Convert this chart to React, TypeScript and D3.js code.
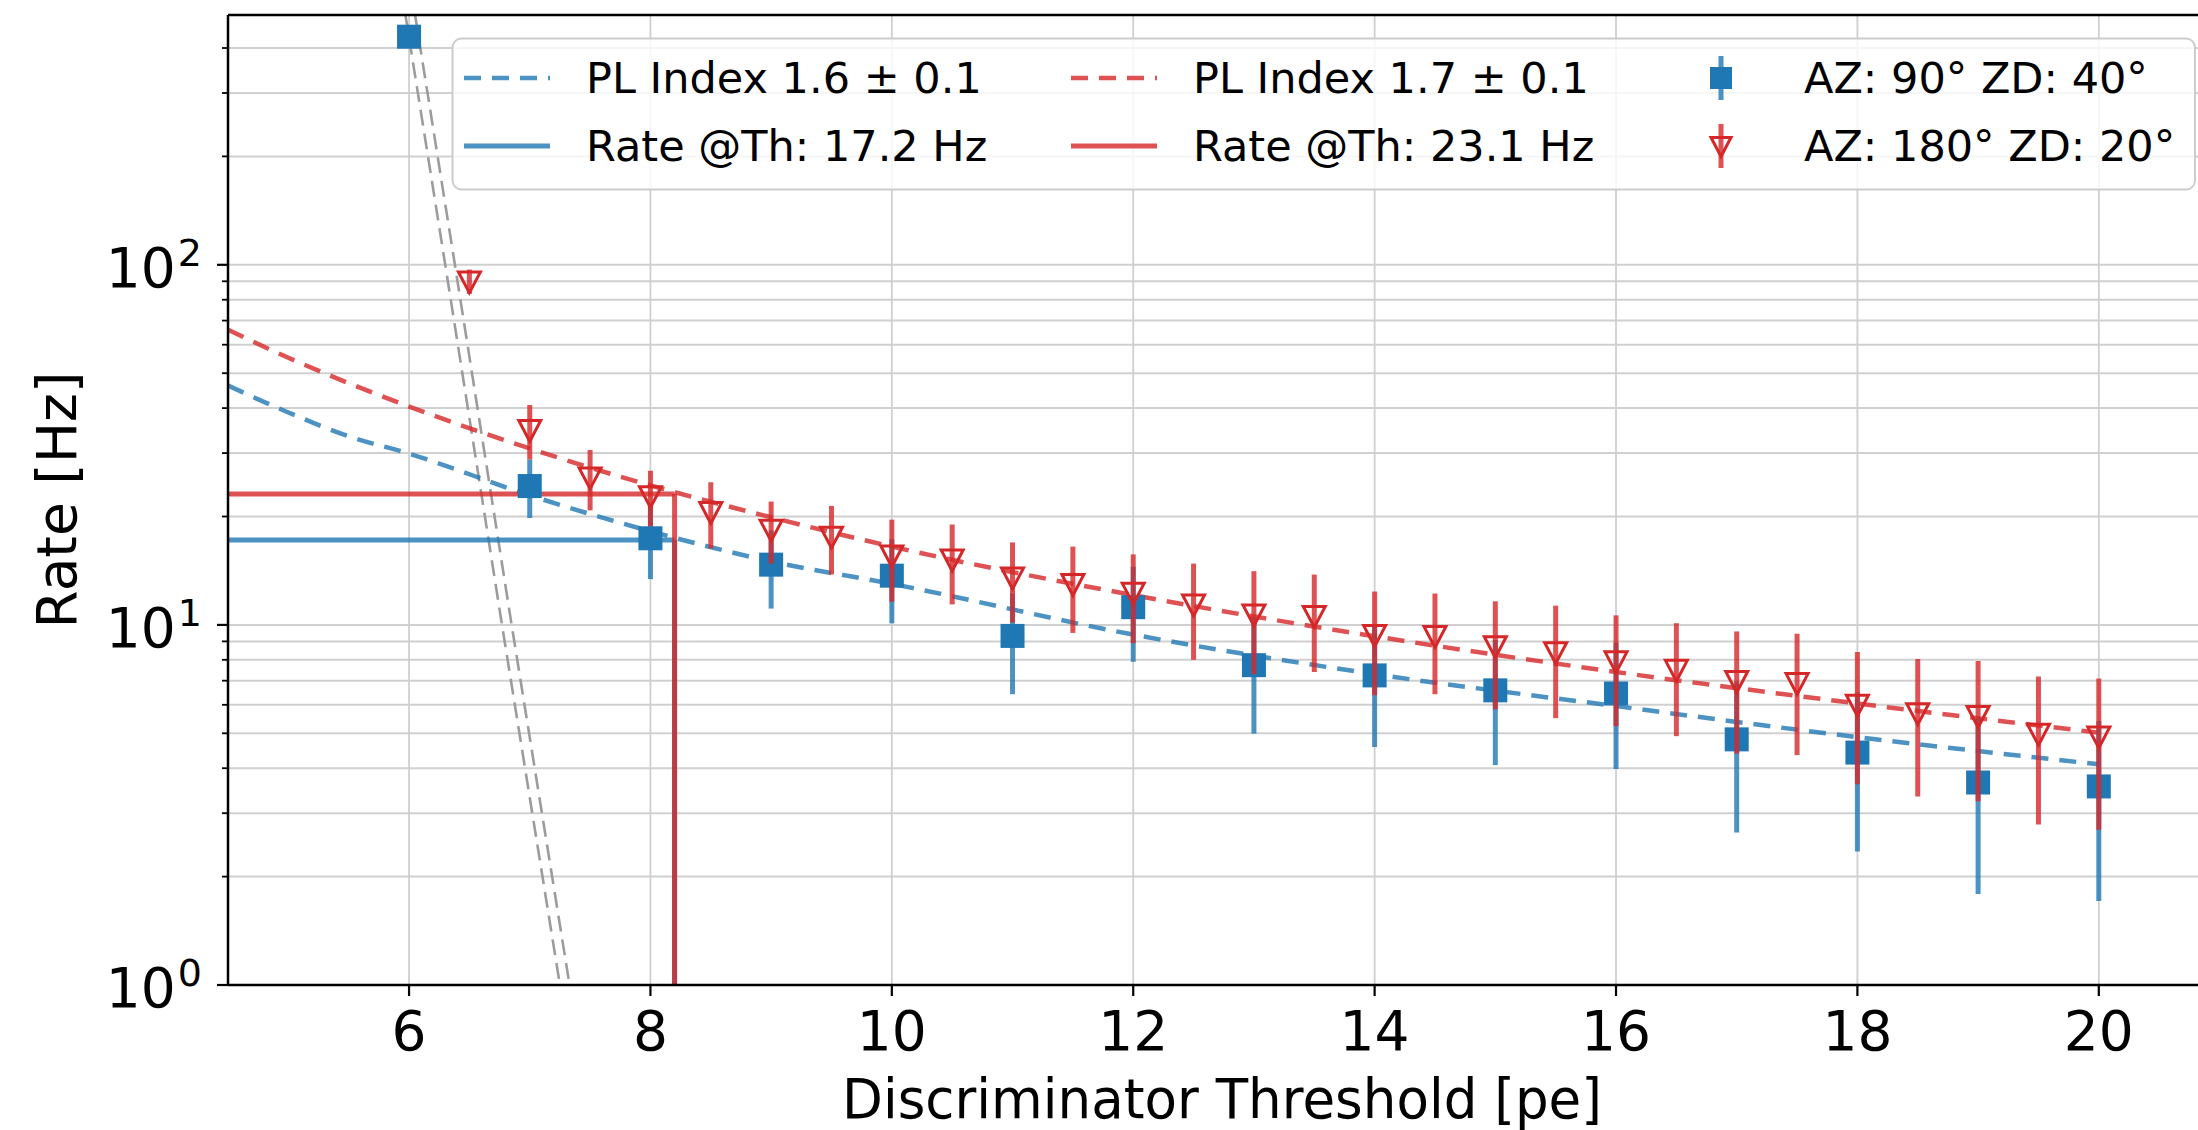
import React from 'react';
import * as d3 from 'd3';

const W = 2198;
const H = 1130;

// Axis ticks
const xTicks = [6, 8, 10, 12, 14, 16, 18, 20];
const yMajorTicks = [1, 10, 100];
const yMajorExp = ['0', '1', '2'];

// AZ: 90° ZD: 40° (blue squares)
const blueX = [6, 7, 8, 9, 10, 11, 12, 13, 14, 15, 16, 17, 18, 19, 20];
const blueRate = [430, 24.3, 17.4, 14.7, 13.7, 9.32, 11.2, 7.73, 7.24, 6.58, 6.45, 4.81, 4.42, 3.65, 3.56];
const blueErr = [18, 4.5, 4.0, 3.6, 3.6, 2.9, 3.3, 2.74, 2.66, 2.5, 2.47, 2.16, 2.07, 1.86, 1.85];

// AZ: 180° ZD: 20° (red triangles)
const redX = [6.5, 7, 7.5, 8, 8.5, 9, 9.5, 10, 10.5, 11, 11.5, 12, 12.5, 13, 13.5, 14, 14.5, 15, 15.5, 16, 16.5, 17, 17.5, 18, 18.5, 19, 19.5, 20];
const redRate = [90, 34.8, 25.7, 22.8, 20.6, 18.4, 17.6, 15.6, 15.2, 13.55, 13.0, 12.3, 11.4, 10.7, 10.6, 9.38, 9.32, 8.73, 8.41, 7.93, 7.51, 6.99, 6.9, 6.01, 5.69, 5.59, 4.99, 4.9];
const redErr = [7, 6, 4.9, 4.0, 4.3, 3.6, 3.8, 4.0, 3.8, 3.4, 3.5, 3.4, 3.4, 3.4, 3.2, 3.0, 2.9, 2.9, 2.9, 2.7, 2.6, 2.6, 2.55, 2.4, 2.35, 2.35, 2.2, 2.2];

// Power-law fit curves
const fitX = [4.5, 5, 5.5, 6, 7, 8, 9, 10, 12, 14, 16, 18, 20];
const blueFit = [46.2, 38.9, 33.4, 29.9, 22.9, 18.2, 15.0, 13.0, 9.4, 7.3, 5.95, 4.88, 4.1];
const redFit = [66, 55.2, 46.9, 40.4, 30.9, 24.4, 19.9, 16.5, 12.1, 9.3, 7.4, 6.05, 5.02];

// Steep grey dashed lines (two bounds)
const greyRate = [494, 100, 10, 1];
const greyAX = [5.97, 6.3, 6.77, 7.25];
const greyBX = [6.05, 6.38, 6.85, 7.33];

// Threshold markers
const threshold = 8.2;
const blueThRate = 17.2;
const redThRate = 23.1;

// Legend labels
const legendLabels = [
  'PL Index 1.6 ± 0.1',
  'Rate @Th: 17.2 Hz',
  'PL Index 1.7 ± 0.1',
  'Rate @Th: 23.1 Hz',
  'AZ: 90° ZD: 40°',
  'AZ: 180° ZD: 20°',
];

const BLUE = '#1f77b4';
const RED = '#d62728';
const FONT = "'DejaVu Sans', sans-serif";

export default function App() {
  const left = 228;
  const right = 2219.5;
  const top = 15;
  const bottom = 985;
  const x = d3.scaleLinear().domain([4.5, 21]).range([left, right]);
  const y = d3.scaleLog().domain([1, 494]).range([bottom, top]);

  const gridY = y.ticks();
  const minorY = gridY.filter((v) => !yMajorTicks.includes(v));

  const curve = d3
    .line<[number, number]>()
    .x((d) => x(d[0]))
    .y((d) => y(d[1]))
    .curve(d3.curveMonotoneX);
  const straight = d3
    .line<[number, number]>()
    .x((d) => x(d[0]))
    .y((d) => y(d[1]));

  const blueFitPath = curve(fitX.map((v, i) => [v, blueFit[i]]));
  const redFitPath = curve(fitX.map((v, i) => [v, redFit[i]]));
  const greyA = straight(greyAX.map((v, i) => [v, greyRate[i]]));
  const greyB = straight(greyBX.map((v, i) => [v, greyRate[i]]));

  const sq = 24;
  const tri = (cx: number, cy: number, s = 11) =>
    `M${cx - s},${cy - s * 0.85}L${cx + s},${cy - s * 0.85}L${cx},${cy + s * 1.05}Z`;

  const tickFS = 55;
  const legFS = 43;

  return (
    <svg
      width={W}
      height={H}
      style={{ position: 'absolute', left: 0, top: 0, background: '#fff' }}
      fontFamily={FONT}
    >
      <defs>
        <clipPath id="plotclip">
          <rect x={left} y={top} width={right - left} height={bottom - top} />
        </clipPath>
      </defs>
      <rect x={0} y={0} width={W} height={H} fill="#fff" />

      {/* grid */}
      <g stroke="#d0d0d0" strokeWidth={2}>
        {gridY.map((v) => (
          <line key={'gy' + v} x1={left} x2={right} y1={y(v)} y2={y(v)} />
        ))}
        {xTicks.map((v) => (
          <line key={'gx' + v} x1={x(v)} x2={x(v)} y1={top} y2={bottom} stroke="#cfcfcf" strokeWidth={1.8} />
        ))}
      </g>

      <g clipPath="url(#plotclip)">
        {/* grey steep dashed lines */}
        <path d={greyA || ''} fill="none" stroke="#9c9c9c" strokeWidth={2.6} strokeDasharray="16 8" />
        <path d={greyB || ''} fill="none" stroke="#9c9c9c" strokeWidth={2.6} strokeDasharray="16 8" />

        {/* fit curves */}
        <path d={blueFitPath || ''} fill="none" stroke={BLUE} strokeOpacity={0.8} strokeWidth={4.5} strokeDasharray="17 11" />
        <path d={redFitPath || ''} fill="none" stroke={RED} strokeOpacity={0.8} strokeWidth={4.5} strokeDasharray="17 11" />

        {/* threshold lines */}
        <line x1={left} x2={x(threshold)} y1={y(blueThRate)} y2={y(blueThRate)} stroke={BLUE} strokeOpacity={0.8} strokeWidth={5} />
        <line x1={x(threshold)} x2={x(threshold)} y1={bottom} y2={y(blueThRate)} stroke={BLUE} strokeOpacity={0.8} strokeWidth={5} />
        <line x1={left} x2={x(threshold)} y1={y(redThRate)} y2={y(redThRate)} stroke={RED} strokeOpacity={0.8} strokeWidth={5} />
        <line x1={x(threshold)} x2={x(threshold)} y1={bottom} y2={y(redThRate)} stroke={RED} strokeOpacity={0.8} strokeWidth={5} />

        {/* blue data */}
        {blueX.map((v, i) => (
          <g key={'b' + i}>
            <line
              x1={x(v)}
              x2={x(v)}
              y1={y(Math.max(blueRate[i] - blueErr[i], 0.5))}
              y2={y(blueRate[i] + blueErr[i])}
              stroke={BLUE}
              strokeOpacity={0.8}
              strokeWidth={5}
            />
            <rect x={x(v) - sq / 2} y={y(blueRate[i]) - sq / 2} width={sq} height={sq} fill={BLUE} />
          </g>
        ))}

        {/* red data */}
        {redX.map((v, i) => (
          <g key={'r' + i}>
            <line
              x1={x(v)}
              x2={x(v)}
              y1={y(Math.max(redRate[i] - redErr[i], 0.5))}
              y2={y(redRate[i] + redErr[i])}
              stroke={RED}
              strokeOpacity={0.8}
              strokeWidth={5}
            />
            <path d={tri(x(v), y(redRate[i]))} fill="none" stroke={RED} strokeWidth={3} strokeLinejoin="miter" />
          </g>
        ))}
      </g>

      {/* spines */}
      <g stroke="#000" strokeWidth={2.5}>
        <line x1={left} x2={left} y1={top} y2={bottom} />
        <line x1={left} x2={right} y1={bottom} y2={bottom} />
        <line x1={left} x2={right} y1={top} y2={top} />
      </g>

      {/* ticks */}
      <g stroke="#000" strokeWidth={2.2}>
        {yMajorTicks.map((v) => (
          <line key={'ymt' + v} x1={left - 11} x2={left} y1={y(v)} y2={y(v)} />
        ))}
        {minorY.map((v) => (
          <line key={'ymn' + v} x1={left - 6} x2={left} y1={y(v)} y2={y(v)} strokeWidth={1.8} />
        ))}
        {xTicks.map((v) => (
          <line key={'xt' + v} x1={x(v)} x2={x(v)} y1={bottom} y2={bottom + 11} />
        ))}
      </g>

      {/* tick labels */}
      <g fill="#000" fontSize={tickFS}>
        {yMajorTicks.map((v, i) => (
          <text key={'yl' + v} x={202} y={y(v) + 22} textAnchor="end">
            10
            <tspan dx={2} dy={-21} fontSize={38}>
              {yMajorExp[i]}
            </tspan>
          </text>
        ))}
        {xTicks.map((v) => (
          <text key={'xl' + v} x={x(v)} y={1050} textAnchor="middle">
            {v}
          </text>
        ))}
      </g>

      {/* axis labels */}
      <text
        x={1222}
        y={1118}
        textAnchor="middle"
        fontSize={55}
        fill="#000"
        textLength={760}
        lengthAdjust="spacingAndGlyphs"
      >
        Discriminator Threshold [pe]
      </text>
      <text transform={`translate(76,${(top + bottom) / 2}) rotate(-90)`} textAnchor="middle" fontSize={55} fill="#000">
        Rate [Hz]
      </text>

      {/* legend */}
      <g>
        <rect x={452.5} y={38.5} width={2195 - 452.5} height={151} rx={9} fill="#fff" fillOpacity={0.8} stroke="#cccccc" strokeWidth={2} />
        {/* col 1 */}
        <line x1={464} x2={550} y1={78} y2={78} stroke={BLUE} strokeOpacity={0.8} strokeWidth={4.5} strokeDasharray="17 11" />
        <line x1={464} x2={550} y1={146} y2={146} stroke={BLUE} strokeOpacity={0.8} strokeWidth={5} />
        <text x={586} y={92.5} fontSize={legFS} fill="#000">{legendLabels[0]}</text>
        <text x={586} y={161} fontSize={legFS} fill="#000">{legendLabels[1]}</text>
        {/* col 2 */}
        <line x1={1071} x2={1157} y1={78} y2={78} stroke={RED} strokeOpacity={0.8} strokeWidth={4.5} strokeDasharray="17 11" />
        <line x1={1071} x2={1157} y1={146} y2={146} stroke={RED} strokeOpacity={0.8} strokeWidth={5} />
        <text x={1193} y={92.5} fontSize={legFS} fill="#000">{legendLabels[2]}</text>
        <text x={1193} y={161} fontSize={legFS} fill="#000">{legendLabels[3]}</text>
        {/* col 3 */}
        <line x1={1721} x2={1721} y1={56} y2={100} stroke={BLUE} strokeOpacity={0.8} strokeWidth={5} />
        <rect x={1721 - 11} y={78 - 11} width={22} height={22} fill={BLUE} />
        <line x1={1721} x2={1721} y1={124} y2={168} stroke={RED} strokeOpacity={0.8} strokeWidth={5} />
        <path d={tri(1721, 146, 10)} fill="none" stroke={RED} strokeWidth={3} />
        <text x={1804} y={92.5} fontSize={legFS} fill="#000">{legendLabels[4]}</text>
        <text x={1804} y={161} fontSize={legFS} fill="#000">{legendLabels[5]}</text>
      </g>
    </svg>
  );
}
